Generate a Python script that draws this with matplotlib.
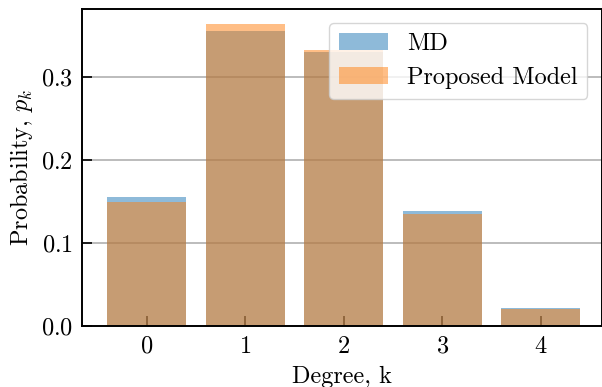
import numpy as np
import matplotlib
matplotlib.use("Agg")
import matplotlib.pyplot as plt

plt.rcParams['font.family'] = 'serif'
plt.rcParams['font.serif'] = ['cmr10', 'DejaVu Serif']
plt.rcParams['mathtext.fontset'] = 'cm'
plt.rcParams['axes.formatter.use_mathtext'] = True
plt.rcParams['font.size'] = 17.5

# degree distribution
degrees = [0, 1, 2, 3, 4]
md_prob = [0.1554, 0.3555, 0.3310, 0.1386, 0.0217]
model_prob = [0.1494, 0.3640, 0.3325, 0.1352, 0.0200]

fig, ax = plt.subplots(figsize=(6.02, 3.87), dpi=100)
ax.set_axisbelow(True)
ax.yaxis.grid(True, color='#b0b0b0', linewidth=1.2)

ax.bar(degrees, md_prob, width=0.8, color='C0', alpha=0.5, label='MD')
ax.bar(degrees, model_prob, width=0.8, color='C1', alpha=0.5, label='Proposed Model')

ax.set_xlim(-0.65, 4.62)
ax.set_ylim(0, 0.383)
ax.set_yticks([0.0, 0.1, 0.2, 0.3])
ax.set_xticks(degrees)
ax.tick_params(direction='in', length=7, width=1.2, pad=7)
for s in ax.spines.values():
    s.set_linewidth(1.4)

ax.set_xlabel('Degree, k', labelpad=6)
ax.set_ylabel('Probability, $p_k$')
ax.legend(loc='upper right', borderaxespad=0.6)

fig.subplots_adjust(left=0.137, right=1.0, top=0.978, bottom=0.158)
fig.savefig('out.png', dpi=100)
